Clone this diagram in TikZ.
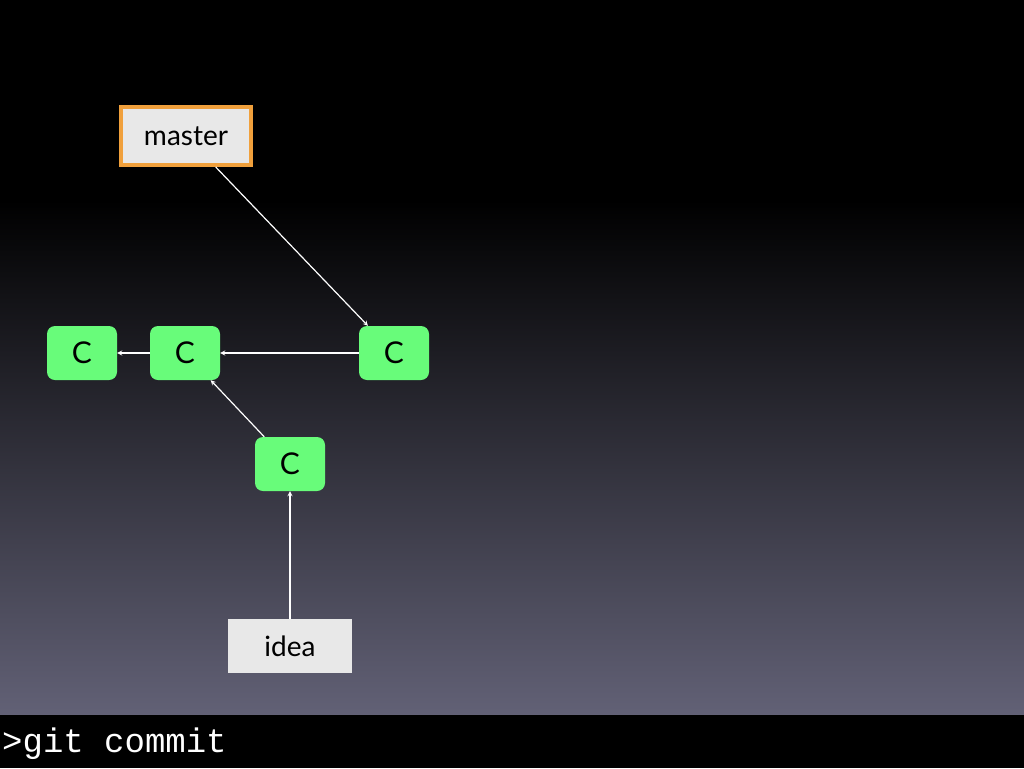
\documentclass[tikz,border=0pt]{standalone}
\usepackage{fontspec}
\setmainfont{Lato}
\setmonofont{Liberation Mono}
\definecolor{commitgreen}{RGB}{104,252,122}
\definecolor{labelgray}{RGB}{232,232,232}
\definecolor{masterorange}{RGB}{240,160,60}
\definecolor{bgtop}{RGB}{0,0,0}
\definecolor{bgmid}{RGB}{22,22,55}
\definecolor{bgbot}{RGB}{98,97,118}
\begin{document}
\begin{tikzpicture}
  [x=1pt,y=-1pt,
   commit/.style={rectangle, rounded corners=8pt, fill=commitgreen, minimum width=70pt, minimum height=54pt, inner sep=0pt, font=\fontsize{30}{32}\selectfont},
   branch/.style={rectangle, fill=labelgray, inner sep=0pt, font=\fontsize{28}{30}\selectfont},
   link/.style={->, white, line width=1.2pt, >=stealth}]

  % background
  \fill[black] (0,0) rectangle (1024,200);
  \shade[top color=bgtop, middle color=bgmid, bottom color=bgbot] (0,200) rectangle (1024,716);
  \fill[black] (0,715) rectangle (1024,768);

  % commits
  \node[commit] (c_1) at (82,353) {C};
  \node[commit] (c_2) at (185,353) {C};
  \node[commit] (c_3) at (394,353) {C};
  \node[commit] (c_4) at (290,464) {C};

  % branches
  \node[branch, draw=masterorange, line width=4pt, minimum width=130pt, minimum height=58pt] (master) at (186,136) {master};
  \node[branch, minimum width=124pt, minimum height=54pt] (idea) at (290,646) {idea};

  \foreach \from/\to in {c_3/c_2,c_2/c_1,c_4/c_2,master/c_3,idea/c_4}
    \draw[link] (\from) -- (\to);

  \node[anchor=west, white, inner sep=0pt, font=\ttfamily\fontsize{34}{36}\selectfont] (cmd) at (2,744) {>git commit};
\end{tikzpicture}
\end{document}
